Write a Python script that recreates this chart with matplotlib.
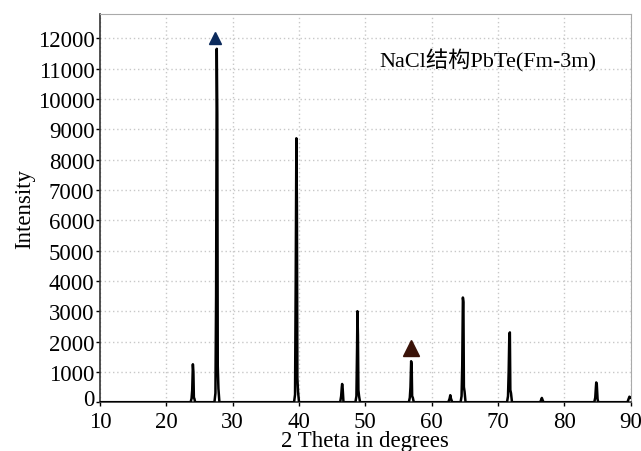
import matplotlib
matplotlib.use("Agg")
import matplotlib.pyplot as plt
from matplotlib.transforms import ScaledTranslation

# XRD trace (2-theta, intensity)
two_theta = [10.0,
    23.65, 23.8, 23.9, 24.0, 24.08, 24.15, 24.22, 24.35,
    27.25, 27.4, 27.5, 27.6, 27.68, 27.75, 27.85, 28.0,
    39.25, 39.4, 39.5, 39.6, 39.68, 39.75, 39.85, 40.0,
    46.2, 46.35, 46.45, 46.5, 46.58, 46.7,
    48.5, 48.65, 48.75, 48.8, 48.88, 48.95, 49.05, 49.2,
    56.55, 56.7, 56.8, 56.9, 56.98, 57.05, 57.15, 57.3,
    62.5, 62.7, 62.8, 62.9, 63.1,
    64.35, 64.5, 64.6, 64.7, 64.78, 64.85, 64.95, 65.1,
    71.35, 71.5, 71.6, 71.7, 71.78, 71.85, 71.95, 72.1,
    76.35, 76.5, 76.6, 76.7, 76.85,
    84.5, 84.65, 84.75, 84.8, 84.88, 85.0, 85.1,
    89.5, 89.7, 89.8, 90.0]
intensity = [0,
    0, 120, 400, 1250, 1000, 150, 120, 0,
    0, 300, 3500, 11650, 9500, 1200, 450, 0,
    0, 250, 4000, 8700, 6500, 800, 350, 0,
    0, 200, 500, 600, 450, 0,
    0, 200, 1800, 3000, 2200, 400, 200, 0,
    0, 150, 500, 1350, 1200, 200, 150, 0,
    0, 120, 230, 120, 0,
    0, 200, 1200, 3450, 3300, 500, 350, 0,
    0, 200, 1000, 2250, 2300, 400, 300, 0,
    0, 80, 140, 80, 0,
    0, 150, 500, 650, 600, 100, 0,
    0, 120, 180, 150]

marker_blue = (27.4, 12000)
marker_brown = (56.9, 1800)
label_text = "NaCl结构PbTe(Fm-3m)"
x_ticks = [10, 20, 30, 40, 50, 60, 70, 80, 90]
y_ticks = list(range(0, 12001, 1000))

serif = ["Liberation Serif", "Noto Sans CJK SC"]
plt.rcParams["font.family"] = serif

fig = plt.figure(figsize=(6.41, 4.52), dpi=100)
ax = fig.add_axes([0.156, 0.108, 0.828, 0.859])

ax.plot(two_theta, intensity, color="black", lw=1.8, zorder=3)
ax.plot(*marker_blue, marker="^", color="#0b2a5c", ms=9, zorder=4)
ax.plot(*marker_brown, marker="^", color="#3a1208", ms=12, zorder=4)
ax.text(68.5, 11300, label_text, fontsize=16, ha="center", va="center",
        family=serif)

ax.set_xlim(10, 90)
ax.set_ylim(0, 12800)
ax.set_xticks(x_ticks)
ax.set_yticks(y_ticks)
ax.tick_params(labelsize=16.5, length=3, width=1)
ax.tick_params(axis="y", pad=1)
ax.tick_params(axis="x", pad=3)
ax.grid(True, color="#c8c8c8", linestyle=(0, (1, 2)), lw=1)
ax.set_axisbelow(True)
for s in ["left", "bottom"]:
    ax.spines[s].set_color("#333333")
    ax.spines[s].set_linewidth(1.2)
for s in ["top", "right"]:
    ax.spines[s].set_color("#aaaaaa")
ax.set_xlabel("2 Theta in degrees", fontsize=16.5, labelpad=-1)
ax.set_ylabel("Intensity", fontsize=16.5, labelpad=2)

# nudge the y "0" label up slightly so it does not collide with x "10"
lab0 = ax.get_yticklabels()[0]
lab0.set_transform(lab0.get_transform() + ScaledTranslation(0, 4 / 72, fig.dpi_scale_trans))

fig.savefig("out.png", dpi=100)
